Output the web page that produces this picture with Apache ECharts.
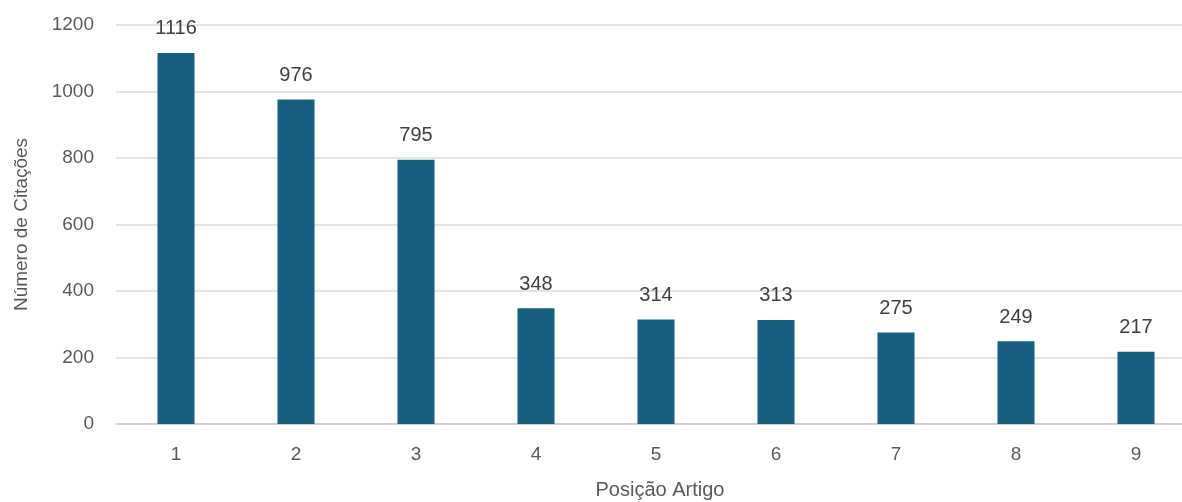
<!DOCTYPE html>
<html>
<head>
<meta charset="utf-8">
<script src="https://cdn.jsdelivr.net/npm/echarts@6/dist/echarts.min.js"></script>
<style>
  html, body { margin: 0; padding: 0; background: #ffffff; overflow: hidden; }
  /* plot area runs slightly past the right edge of the view */
  #chart { width: 1200px; height: 502px; }
</style>
</head>
<body>
<div id="chart"></div>
<script>
// Citations by article position
const positions = ['1', '2', '3', '4', '5', '6', '7', '8', '9'];
const citations = [1116, 976, 795, 348, 314, 313, 275, 249, 217];
const yTicks = { min: 0, max: 1200, interval: 200 };

const FONT = '"Liberation Sans", Arial, sans-serif';
const chart = echarts.init(document.getElementById('chart'), null, { renderer: 'canvas' });

chart.setOption({
  animation: false,
  backgroundColor: '#ffffff',
  grid: {
    left: 116, right: 4, top: 25, bottom: 78,
    containLabel: false,
    outerBoundsMode: 'none'
  },
  xAxis: {
    type: 'category',
    data: positions,
    name: 'Posição Artigo',
    nameLocation: 'middle',
    nameGap: 56,
    nameTextStyle: { fontFamily: FONT, fontSize: 20, color: '#595959', padding: [0, 0, 0, 8] },
    axisLine: { show: true, lineStyle: { color: '#cccccc', width: 1.5 } },
    axisTick: { show: false },
    axisLabel: { margin: 21, fontFamily: FONT, fontSize: 19, color: '#595959' }
  },
  yAxis: {
    type: 'value',
    min: yTicks.min,
    max: yTicks.max,
    interval: yTicks.interval,
    name: 'Número de Citações',
    nameLocation: 'middle',
    nameGap: 85,
    nameTextStyle: { fontFamily: FONT, fontSize: 19, color: '#595959' },
    axisLine: { show: false },
    axisTick: { show: false },
    axisLabel: {
      margin: 22, fontFamily: FONT, fontSize: 19, color: '#595959',
      formatter: v => String(v)
    },
    splitLine: { show: true, lineStyle: { color: '#dddddd', width: 1.5 } }
  },
  series: [{
    type: 'bar',
    data: citations,
    barWidth: 37,
    itemStyle: { color: '#175e7f' },
    label: {
      show: true,
      position: 'top',
      distance: 14,
      fontFamily: FONT,
      fontSize: 20,
      color: '#404040'
    }
  }]
});
</script>
</body>
</html>
